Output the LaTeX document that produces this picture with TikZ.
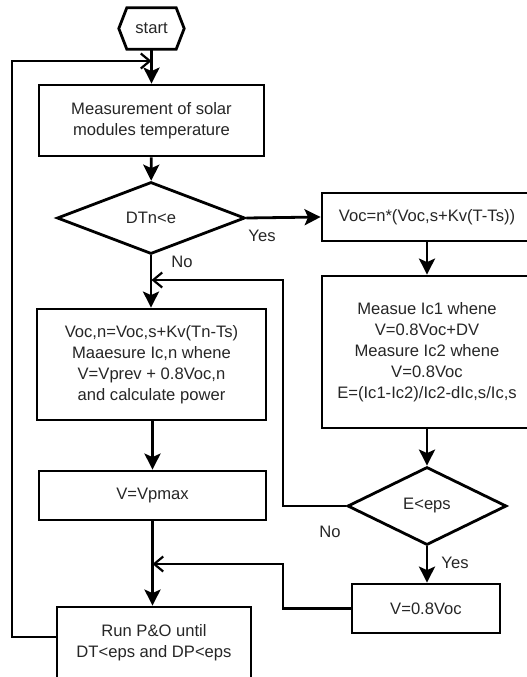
\documentclass[tikz,border=0pt]{standalone}
\usepackage{fontspec}
\setmainfont{Liberation Sans}
\usetikzlibrary{arrows.meta,shapes.geometric,calc}
\begin{document}
\begin{tikzpicture}[x=1pt,y=-1pt,
  every node/.style={font=\fontsize{16.6}{21}\selectfont, text=black!85},
  box/.style={draw, line width=2.8pt, align=center, inner sep=0pt},
  dec/.style={draw, diamond, line width=2.8pt, inner sep=0pt, align=center},
  lbl/.style={inner sep=0pt},
  flow/.style={line width=2.8pt, -{Stealth[length=16pt,width=16pt,inset=3.5pt]}},
  merge/.style={line width=2.8pt, -{Straight Barb[length=9pt,width=15pt,line width=2.2pt]}},
  plain/.style={line width=2.8pt}]
\useasboundingbox (0,0) rectangle (527,677);
\clip (0,0) rectangle (527,677);
% nodes
\node[inner sep=0pt, minimum width=65pt, minimum height=41pt] (start) at (151.5,28.5) {start};
\draw[line width=2.8pt, line join=miter] (start.west) -- ([xshift=8pt]start.north west) -- ([xshift=-8pt]start.north east) -- (start.east) -- ([xshift=-8pt]start.south east) -- ([xshift=8pt]start.south west) -- cycle;
\node[box, minimum width=225pt, minimum height=71pt] (meas) at (151.5,120.5) {Measurement of solar\\modules temperature};
\node[dec, minimum width=188pt, minimum height=72pt] (d1) at (151,218) {DTn<e};
\node[box, minimum width=210pt, minimum height=48pt] (voc) at (427,217) {Voc=n*(Voc,s+Kv(T-Ts))};
\node[box, minimum width=210pt, minimum height=152pt] (mic) at (427,352) {Measue Ic1 whene\\V=0.8Voc+DV\\Measure Ic2 whene\\V=0.8Voc\\E=(Ic1-Ic2)/Ic2-dIc,s/Ic,s};
\node[dec, minimum width=159pt, minimum height=78pt] (d2) at (427,506) {E<eps};
\node[box, minimum width=148pt, minimum height=49pt] (v08) at (426,608.5) {V=0.8Voc};
\node[box, minimum width=229pt, minimum height=111pt] (left) at (151.5,364.5) {Voc,n=Voc,s+Kv(Tn-Ts)\\Maaesure Ic,n whene\\V=Vprev + 0.8Voc,n\\and calculate power};
\node[box, minimum width=227pt, minimum height=49pt] (vpm) at (152.5,495.5) {V=Vpmax};
\node[box, minimum width=194pt, minimum height=72pt] (run) at (154,643) {Run P\&O until\\DT<eps and DP<eps};
% labels
\node[lbl] (yes1) at (262,236) {Yes};
\node[lbl] (no1) at (182,262) {No};
\node[lbl] (no2) at (330,532) {No};
\node[lbl] (yes2) at (455,563) {Yes};
% junction coordinates
\coordinate (j1) at (151.5,61);
\coordinate (j2) at (151.5,280);
\coordinate (j3) at (152.5,564);
% connectors
\draw[flow] (start) -- (meas);
\draw[flow] (meas) -- (d1);
\draw[flow] (d1.east) -- (voc.west);
\draw[flow] (voc.south -| mic.north) -- (mic.north);
\draw[flow] (mic) -- (d2);
\draw[flow] (d2) -- (v08.north -| d2.south);
\draw[flow] (d1.south) -- (left.north -| d1.south);
\draw[flow] (left.south -| vpm.north) -- (vpm.north);
\draw[flow] (vpm.south) -- (run.north -| vpm.south);
\draw[merge] ([yshift=6pt]run.west) -| (12,61) -- (j1);
\draw[merge] (d2.west) -| (283,280) -- (j2);
\draw[merge] (v08.west) -| (283,564) -- (j3);
\end{tikzpicture}
\end{document}
